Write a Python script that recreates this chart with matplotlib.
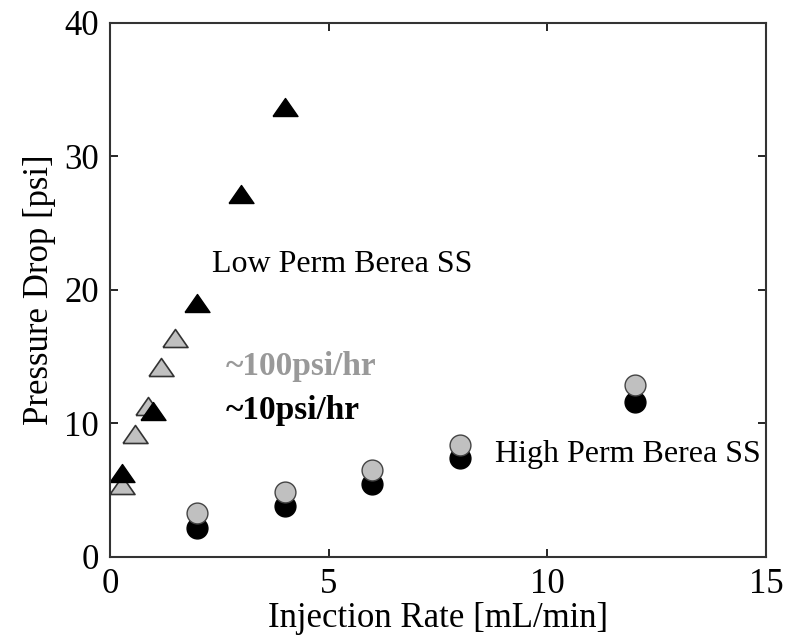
import matplotlib.pyplot as plt

plt.rcParams['font.family'] = ['Liberation Serif', 'DejaVu Serif']

# low perm core, two pressure ramp rates
low_x_10 = [0.27, 0.99, 1.99, 2.99, 4.0]
low_y_10 = [6.3, 10.9, 19.0, 27.2, 33.7]
low_x_100 = [0.27, 0.58, 0.87, 1.17, 1.49]
low_y_100 = [5.4, 9.2, 11.3, 14.2, 16.4]

# high perm core
high_x = [2, 4, 6, 8, 12]
high_y_10 = [2.15, 3.8, 5.5, 7.45, 11.6]
high_y_100 = [3.3, 4.9, 6.5, 8.4, 12.9]

gray = '#c0c0c0'
# slightly squat triangle marker
tri = [(-1, -0.72), (1, -0.72), (0, 0.72), (-1, -0.72)]

fig = plt.figure(figsize=(7.88, 6.37), dpi=100)
ax = fig.add_axes([0.1396, 0.1256, 0.8325, 0.8383])

ax.plot(low_x_100, low_y_100, marker=tri, ms=18, mfc=gray, mec='#333333', mew=1.2, ls='none')
ax.plot(low_x_10, low_y_10, marker=tri, ms=18, mfc='black', mec='black', ls='none')
ax.plot(high_x, high_y_10, 'o', ms=15, mfc='black', mec='black', ls='none')
ax.plot(high_x, high_y_100, 'o', ms=15, mfc=gray, mec='#444444', mew=1, ls='none')

ax.text(2.33, 21.35, 'Low Perm Berea SS', fontsize=23, va='baseline')
ax.text(8.81, 7.1, 'High Perm Berea SS', fontsize=23, va='baseline')
ax.text(2.65, 13.6, '~100psi/hr', fontsize=24, fontweight='bold', color='#999999', va='baseline')
ax.text(2.65, 10.3, '~10psi/hr', fontsize=24, fontweight='bold', color='black', va='baseline')

ax.set_xlim(0, 15)
ax.set_ylim(0, 40)
ax.set_xticks([0, 5, 10, 15])
ax.set_yticks([0, 10, 20, 30, 40])
ax.tick_params(direction='in', top=True, right=True, labelsize=25, length=6, width=1.2)
ax.tick_params(axis='y', pad=8)
ax.tick_params(axis='x', pad=8)
ax.set_xlabel('Injection Rate [mL/min]', fontsize=25, labelpad=0.5)
ax.set_ylabel('Pressure Drop [psi]', fontsize=25, labelpad=6)
for s in ax.spines.values():
    s.set_color('#333333')
    s.set_linewidth(1.5)

fig.savefig('out.png', dpi=100)
